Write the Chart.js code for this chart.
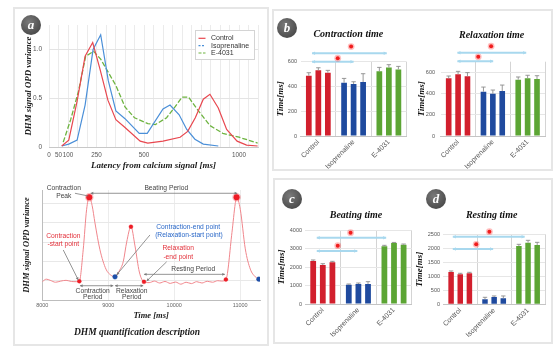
<!DOCTYPE html>
<html>
<head>
<meta charset="utf-8">
<script src="https://cdn.jsdelivr.net/npm/chart.js@4/dist/chart.umd.min.js"></script>
<style>
  html, body { margin: 0; padding: 0; background: #fff; width: 556px; height: 354px; overflow: hidden; }
  .frame { position: absolute; border: 2px solid #e6e6e6; box-sizing: border-box; }
  canvas { position: absolute; }
  .badge { position: absolute; width: 20px; height: 20px; border-radius: 50%; z-index: 5;
           background: radial-gradient(circle at 40% 35%, #7a7a7a, #3b3b3b);
           color: #fff; font: italic bold 13px "Liberation Serif", serif; text-align: center; line-height: 19px; }
</style>
</head>
<body>
<div class="frame" style="left:13px;top:7px;width:256px;height:339px"></div>
<div class="frame" style="left:272px;top:9px;width:281px;height:162px"></div>
<div class="frame" style="left:273px;top:178px;width:280px;height:166px"></div>

<canvas id="latency" width="253" height="168" style="left:14px;top:8px"></canvas>
<canvas id="trace" width="253" height="168" style="left:14px;top:176px"></canvas>
<canvas id="contraction" width="140" height="158" style="left:274px;top:12px"></canvas>
<canvas id="relaxation" width="139" height="158" style="left:414px;top:12px"></canvas>
<canvas id="beating" width="140" height="135" style="left:275px;top:205px"></canvas>
<canvas id="resting" width="140" height="135" style="left:413px;top:205px"></canvas>

<div class="badge" style="left:21px;top:15px">a</div>
<div class="badge" style="left:277px;top:18px">b</div>
<div class="badge" style="left:282px;top:189px">c</div>
<div class="badge" style="left:426px;top:189px">d</div>

<script>
// ---- panel a, top: latency histogram ----
const latencyTicks = [0, 50, 100, 250, 500, 1000];
const controlLatency = [67, 104, 148, 190, 230, 268, 310, 352, 400, 480, 520, 600, 690, 730, 770, 812, 847, 891, 935, 990, 1040, 1098];
const controlOPD = [0.01, 0.07, 0.47, 0.93, 1.07, 0.8, 0.48, 0.28, 0.2, 0.06, 0.04, 0.06, 0.1, 0.16, 0.3, 0.49, 0.54, 0.4, 0.18, 0.06, 0.02, 0.01];
const isoLatency = [67, 104, 148, 190, 232, 272, 312, 352, 400, 475, 517, 600, 637, 685, 725, 768, 812, 891];
const isoOPD = [0.01, 0.03, 0.07, 0.43, 1.0, 1.15, 0.68, 0.37, 0.29, 0.14, 0.14, 0.39, 0.43, 0.33, 0.18, 0.08, 0.03, 0.01];
const e4031Latency = [75, 114, 155, 193, 235, 272, 352, 400, 450, 520, 560, 619, 663, 700, 735, 775, 847, 915, 1000, 1050, 1098];
const e4031OPD = [0.05, 0.28, 0.57, 0.93, 0.98, 0.9, 0.63, 0.41, 0.3, 0.24, 0.23, 0.3, 0.41, 0.51, 0.51, 0.4, 0.22, 0.14, 0.1, 0.07, 0.04];

// ---- panel a, bottom: example trace ----
const timeTicks = [8000, 9000, 10000, 11000];
const traceTime = [8000, 8060, 8120, 8200, 8280, 8360, 8440, 8520, 8561, 8620, 8672, 8712, 8755, 8798, 8874, 8965, 9035, 9102,
  9165, 9228, 9279, 9344, 9405, 9471, 9541, 9620, 9700, 9780, 9860, 9940, 10020, 10100, 10180, 10260, 10340, 10420, 10500,
  10580, 10660, 10720, 10783, 10875, 10925, 10945, 11001, 11077, 11153, 11229, 11283];
const traceOPD = [0.95, 1.08, 1.02, 0.92, 0.98, 1.02, 0.96, 0.95, 0.97, 2.6, 4.7, 5.33, 4.9, 4.0, 2.6, 1.6, 1.3, 1.2,
  1.5, 2.0, 3.0, 3.8, 2.8, 1.45, 0.94, 0.9, 0.98, 0.88, 0.96, 0.86, 0.93, 0.82, 0.92, 0.85, 0.95, 0.88, 0.97,
  0.92, 1.0, 0.98, 1.06, 3.5, 5.0, 5.33, 4.7, 2.65, 1.6, 1.2, 1.08];
const peakTime = [8712, 10945];
const peakOPD = [5.33, 5.33];
const redPointTime = [8561, 9344, 9541, 10783];
const redPointOPD = [0.97, 3.8, 0.94, 1.06];
const bluePointTime = [9102, 11283];
const bluePointOPD = [1.2, 1.08];

// ---- panels b-d: three samples per group ----
const groups = ['Control', 'Isoprenaline', 'E-4031'];
const contractionMeans = [[487, 530, 511], [430, 420, 436], [522, 554, 538]];
const contractionErrors = [[24, 21, 19], [35, 18, 67], [32, 22, 24]];
const relaxationMeans = [[543, 581, 562], [417, 398, 423], [531, 543, 537]];
const relaxationErrors = [[22, 28, 35], [44, 35, 57], [25, 29, 31]];
const beatingMeans = [[2325, 2108, 2252], [1045, 1081, 1081], [3117, 3297, 3207]];
const beatingErrors = [[55, 70, 54], [36, 54, 126], [54, 30, 36]];
const restingMeans = [[1154, 1071, 1107], [179, 262, 214], [2083, 2202, 2118]];
const restingErrors = [[36, 36, 35], [71, 36, 84], [59, 83, 95]];

const sans = '"Liberation Sans", Arial, sans-serif';
const serif = '"Liberation Serif", "Times New Roman", serif';
const groupColors = ['#d21f2d', '#1f4a9e', '#5ca534'];
Chart.defaults.font.family = sans;
Chart.defaults.animation = false;

const zip = (xs, ys) => xs.map((x, i) => ({x: x, y: ys[i]}));
const titleFont = size => ({family: serif, style: 'italic', weight: 'bold', size: size});

function arrow(ctx, x1, y1, x2, y2, heads, size) {
  ctx.beginPath(); ctx.moveTo(x1, y1); ctx.lineTo(x2, y2); ctx.stroke();
  const a = Math.atan2(y2 - y1, x2 - x1);
  const tip = (x, y, ang) => {
    ctx.beginPath();
    ctx.moveTo(x, y);
    ctx.lineTo(x - size * Math.cos(ang - 0.5), y - size * Math.sin(ang - 0.5));
    ctx.lineTo(x - size * Math.cos(ang + 0.5), y - size * Math.sin(ang + 0.5));
    ctx.closePath(); ctx.fill();
  };
  if (heads >= 1) tip(x2, y2, a);
  if (heads === 2) tip(x1, y1, a + Math.PI);
}

// legend box inside the latency plot
const legendDash = [[], [2, 1.5], [3, 1.5]];
const latencyLegend = {
  id: 'latencyLegend',
  afterDraw(chart) {
    const {ctx, chartArea: a} = chart;
    const w = 59, h = 29, x0 = a.right - 4 - w, y0 = a.top + 5;
    ctx.save();
    ctx.fillStyle = '#fff';
    ctx.fillRect(x0, y0, w, h);
    ctx.strokeStyle = '#d4d4d4';
    ctx.lineWidth = 1;
    ctx.strokeRect(x0 + 0.5, y0 + 0.5, w, h);
    chart.data.datasets.forEach((ds, i) => {
      const y = y0 + 8.3 + i * 7.35;
      ctx.strokeStyle = ds.borderColor;
      ctx.lineWidth = 1.2;
      ctx.setLineDash(legendDash[i]);
      ctx.beginPath(); ctx.moveTo(x0 + 3.5, y); ctx.lineTo(x0 + 10.5, y); ctx.stroke();
      ctx.setLineDash([]);
      ctx.fillStyle = '#333';
      ctx.font = '7px ' + sans;
      ctx.textBaseline = 'middle';
      ctx.fillText(ds.label, x0 + 16, y);
    });
    ctx.restore();
  }
};

new Chart(document.getElementById('latency'), {
  type: 'line',
  data: {
    datasets: [
      {label: 'Control', data: zip(controlLatency, controlOPD), borderColor: '#e8474f', borderWidth: 1.2, pointRadius: 0, tension: 0},
      {label: 'Isoprenaline', data: zip(isoLatency, isoOPD), borderColor: '#4a8fd8', borderWidth: 1.2, pointRadius: 0, tension: 0},
      {label: 'E-4031', data: zip(e4031Latency, e4031OPD), borderColor: '#6db33f', borderWidth: 1.3, borderDash: [5, 2], pointRadius: 0, tension: 0}
    ]
  },
  options: {
    responsive: false,
    layout: {padding: {top: 17, right: 9, left: 0, bottom: 0}},
    plugins: {legend: {display: false}, tooltip: {enabled: false}},
    scales: {
      x: {
        type: 'linear', min: 0, max: 1100,
        ticks: {stepSize: 50, autoSkip: false, maxRotation: 0, padding: 4, color: '#555', font: {size: 6.3},
          callback: v => latencyTicks.includes(v) ? String(v) : ''},
        grid: {color: '#ebebeb', drawTicks: false},
        border: {color: '#c8c8c8'},
        title: {display: true, text: 'Latency from calcium signal [ms]', font: titleFont(9), color: '#1a1a1a', padding: {top: 0, bottom: 4.6}},
        afterFit: s => { s.height = 29; }
      },
      y: {
        min: 0, max: 1.25,
        ticks: {stepSize: 0.5, includeBounds: false, padding: 7, color: '#555', font: {size: 6.5},
          callback: v => v === 0 ? '0' : v.toFixed(1)},
        grid: {color: '#e4e4e4', drawTicks: false},
        border: {display: false},
        title: {display: true, text: 'DHM signal OPD variance', font: titleFont(8.8), color: '#1a1a1a', padding: {top: 9.6, bottom: 0}},
        afterFit: s => { s.width = 35; }
      }
    }
  },
  plugins: [latencyLegend]
});

// annotation layer for the trace
const grey = '#444', red = '#e3303a', blue = '#2a68c8';
const traceNotes = {
  id: 'traceNotes',
  afterDraw(chart) {
    const {ctx, scales: {x, y}} = chart;
    const px = t => x.getPixelForValue(t), py = v => y.getPixelForValue(v);
    const texts = [
      ['Contraction', 8326, 5.79, grey], ['Peak', 8326, 5.37, grey],
      ['Beating Period', 9880, 5.82, grey],
      ['Contraction-end point', 10212, 3.8, blue], ['(Relaxation-start point)', 10223, 3.37, blue],
      ['Contraction', 8318, 3.32, red], ['-start point', 8318, 2.89, red],
      ['Relaxation', 10061, 2.68, red], ['-end point', 10061, 2.24, red],
      ['Resting Period', 10288, 1.59, grey],
      ['Contraction', 8764, 0.48, grey], ['Period', 8764, 0.17, grey],
      ['Relaxation', 9355, 0.48, grey], ['Period', 9355, 0.17, grey]
    ];
    const arrows = [
      [8495, 5.53, 8697, 5.39, 0], [8733, 5.53, 10955, 5.53, 2],
      [9632, 3.37, 9127, 1.3, 1], [8318, 2.59, 8545, 1.04, 1], [9885, 1.98, 9582, 0.98, 1],
      [9541, 1.33, 10768, 1.33, 2], [8571, 0.74, 9076, 0.74, 2], [9102, 0.74, 9530, 0.74, 2]
    ];
    ctx.save();
    ctx.strokeStyle = '#7a7a7a';
    ctx.fillStyle = '#7a7a7a';
    ctx.lineWidth = 0.8;
    arrows.forEach(a => arrow(ctx, px(a[0]), py(a[1]), px(a[2]), py(a[3]), a[4], 3));
    ctx.font = '6.7px ' + sans;
    ctx.textAlign = 'center';
    ctx.textBaseline = 'middle';
    texts.forEach(t => { ctx.fillStyle = t[3]; ctx.fillText(t[0], px(t[1]), py(t[2])); });
    ctx.restore();
  }
};

new Chart(document.getElementById('trace'), {
  type: 'line',
  data: {
    datasets: [
      {label: 'Trace', data: zip(traceTime, traceOPD), borderColor: '#f0868c', borderWidth: 1, pointRadius: 0,
        cubicInterpolationMode: 'monotone', order: 3},
      {label: 'Peaks', data: zip(peakTime, peakOPD), showLine: false, pointRadius: 3, pointBackgroundColor: '#ee1c25',
        pointBorderColor: 'rgba(238,28,37,0.3)', pointBorderWidth: 2.5, order: 0},
      {label: 'Start/end points', data: zip(redPointTime, redPointOPD), showLine: false, pointRadius: 2,
        pointBackgroundColor: '#ee1c25', pointBorderColor: 'rgba(238,28,37,0.35)', pointBorderWidth: 1, order: 1},
      {label: 'Contraction-end points', data: zip(bluePointTime, bluePointOPD), showLine: false, pointRadius: 2.4,
        pointBackgroundColor: '#1f4fa8', pointBorderColor: 'rgba(31,79,168,0.35)', pointBorderWidth: 1, order: 1}
    ]
  },
  options: {
    responsive: false,
    layout: {padding: {top: 14, right: 7, left: 0, bottom: 0}},
    plugins: {
      legend: {display: false}, tooltip: {enabled: false},
      title: {display: true, position: 'bottom', text: 'DHM quantification description', font: titleFont(9.5),
        color: '#1a1a1a', padding: {top: 3.3, bottom: 5.3}}
    },
    scales: {
      x: {
        type: 'linear', min: 8000, max: 11300,
        afterBuildTicks: s => { s.ticks = timeTicks.map(v => ({value: v})); },
        ticks: {padding: 2.5, color: '#666', font: {size: 5.5}, callback: v => String(v)},
        grid: {color: '#ececec', drawTicks: false},
        border: {color: '#bdbdbd'},
        title: {display: true, text: 'Time [ms]', font: titleFont(8.5), color: '#1a1a1a', padding: {top: 0, bottom: 2.9}},
        afterFit: s => { s.height = 24; }
      },
      y: {
        min: 0, max: 5.7,
        ticks: {display: false, stepSize: 1, includeBounds: false},
        grid: {color: '#e8e8e8', drawTicks: false},
        border: {color: '#bdbdbd'},
        title: {display: true, text: 'DHM signal OPD variance', font: titleFont(8.5), color: '#1a1a1a', padding: {top: 7.6, bottom: 0}},
        afterFit: s => { s.width = 28.3; }
      }
    }
  },
  plugins: [traceNotes]
});

// bar panels: title, error bars, significance brackets
const barExtras = {
  id: 'barExtras',
  afterDatasetsDraw(chart, args, o) {
    const {ctx, chartArea: a, scales: {x, y}} = chart;
    ctx.save();
    // error bars
    ctx.strokeStyle = '#8c8c8c';
    ctx.lineWidth = 0.9;
    chart.data.datasets.forEach((ds, d) => {
      chart.getDatasetMeta(d).data.forEach((bar, i) => {
        const top = y.getPixelForValue(ds.data[i] + ds.errors[i]);
        ctx.beginPath();
        ctx.moveTo(bar.x, bar.y); ctx.lineTo(bar.x, top);
        ctx.moveTo(bar.x - 2.2, top); ctx.lineTo(bar.x + 2.2, top);
        ctx.stroke();
      });
    });
    // brackets
    ctx.strokeStyle = '#a8d8ee';
    ctx.fillStyle = '#a8d8ee';
    ctx.lineWidth = 2;
    o.brackets.forEach(b => arrow(ctx, x.getPixelForValue(b[0]), y.getPixelForValue(b[2]),
      x.getPixelForValue(b[1]), y.getPixelForValue(b[2]), 2, 3.5));
    // stars
    o.stars.forEach(s => {
      const sx = x.getPixelForValue(s[0]), sy = y.getPixelForValue(s[1]);
      ctx.fillStyle = 'rgba(255,40,40,0.3)';
      ctx.beginPath(); ctx.arc(sx, sy, 3.4, 0, Math.PI * 2); ctx.fill();
      ctx.fillStyle = '#f01d1d';
      ctx.beginPath(); ctx.arc(sx, sy, 2, 0, Math.PI * 2); ctx.fill();
    });
    // panel title
    ctx.fillStyle = '#111';
    ctx.font = 'italic bold 10px ' + serif;
    ctx.textAlign = 'center';
    ctx.textBaseline = 'middle';
    ctx.fillText(o.title, (a.left + a.right) / 2 + o.dx, a.top - o.dy);
    ctx.restore();
  }
};

function groupedBars(id, means, errors, o) {
  const datasets = [0, 1, 2].map(r => ({
    label: 'Sample ' + (r + 1),
    data: means.map(g => g[r]),
    errors: errors.map(g => g[r]),
    backgroundColor: groupColors,
    categoryPercentage: 0.81,
    barPercentage: 0.6
  }));
  return new Chart(document.getElementById(id), {
    type: 'bar',
    data: {labels: groups, datasets: datasets},
    options: {
      responsive: false,
      layout: {padding: {top: o.top, right: o.right, left: 0, bottom: 0}},
      plugins: {
        legend: {display: false}, tooltip: {enabled: false},
        barExtras: {title: o.title, dx: o.dx, dy: o.dy, brackets: o.brackets, stars: o.stars}
      },
      scales: {
        x: {
          grid: {offset: true, drawTicks: false, color: c => (c.index === 0 || c.index === groups.length) ? 'rgba(0,0,0,0)' : '#d4d4d4'},
          border: {color: '#c4c4c4'},
          ticks: {font: {size: 7}, color: '#555', minRotation: 45, maxRotation: 45, padding: 2, autoSkip: false},
          afterFit: s => { s.height = o.xh; }
        },
        y: {
          min: 0, max: o.max,
          ticks: {stepSize: o.step, includeBounds: false, font: {size: 5.5}, color: '#555', padding: o.tp,
            callback: v => String(v)},
          grid: {drawTicks: false, color: '#e6e6e6'},
          border: {display: false},
          title: {display: true, text: 'Time[ms]', font: titleFont(9), color: '#111', padding: {top: o.tt, bottom: 0}},
          afterFit: s => { s.width = o.yw; }
        }
      }
    },
    plugins: [barExtras]
  });
}

groupedBars('contraction', contractionMeans, contractionErrors, {
  title: 'Contraction time', dx: -5.3, dy: 27.7, max: 600, step: 200,
  top: 49.7, right: 7.5, xh: 34, yw: 26.7, tp: 3.7, tt: 1.6,
  brackets: [[-0.18, 1.94, 668], [-0.18, 1.0, 600]], stars: [[0.93, 722], [0.55, 628]]
});
groupedBars('relaxation', relaxationMeans, relaxationErrors, {
  title: 'Relaxation time', dx: -1.2, dy: 26.7, max: 700, step: 200,
  top: 49.7, right: 8, xh: 34, yw: 26.7, tp: 5.7, tt: 2.3,
  brackets: [[-0.02, 1.96, 784], [-0.02, 1.01, 704]], stars: [[0.95, 846], [0.58, 746]]
});
groupedBars('beating', beatingMeans, beatingErrors, {
  title: 'Beating time', dx: -2.4, dy: 14.3, max: 4000, step: 1000,
  top: 25, right: 3.2, xh: 36, yw: 30, tp: 3, tt: 1.3,
  brackets: [[-0.17, 1.78, 3583], [-0.17, 0.97, 2865]], stars: [[0.78, 3854], [0.42, 3151]]
});
groupedBars('resting', restingMeans, restingErrors, {
  title: 'Resting time', dx: -2.5, dy: 18.6, max: 2500, step: 500,
  top: 29.3, right: 8, xh: 35.7, yw: 30.3, tp: 3.3, tt: 0.9,
  brackets: [[-0.22, 1.9, 2413], [-0.22, 0.97, 1974]], stars: [[0.86, 2592], [0.47, 2142]]
});
</script>
</body>
</html>
